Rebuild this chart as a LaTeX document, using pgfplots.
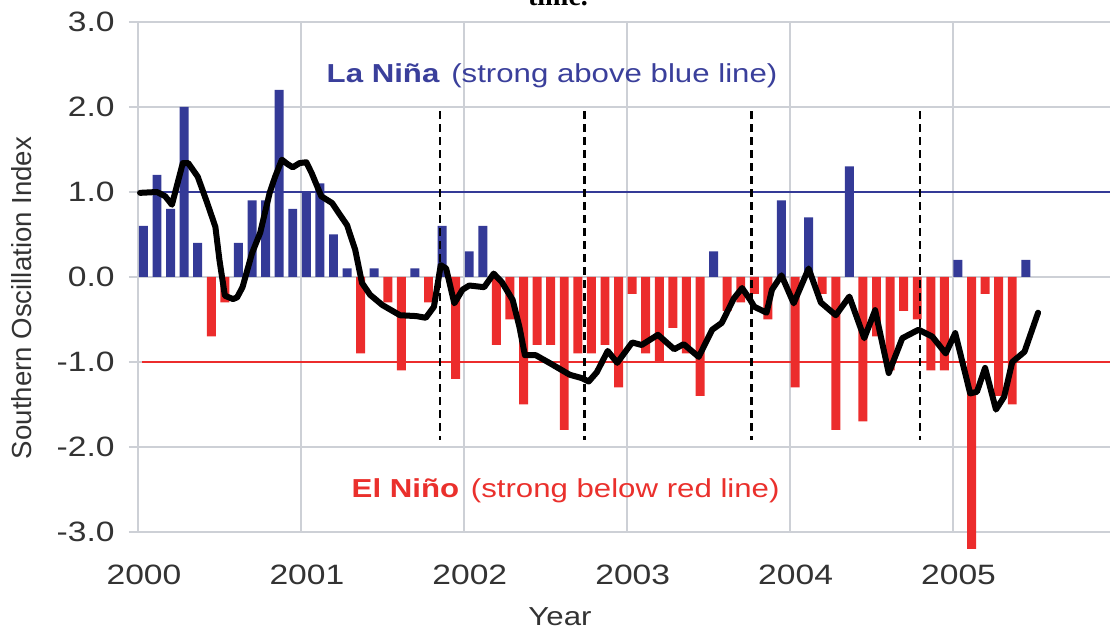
\documentclass[border=0pt]{standalone}
\usepackage{fontspec}
\setmainfont{Liberation Sans}[FakeStretch=1.2]
\newfontfamily\plainsans{Liberation Sans}
\newfontfamily\serifb{Liberation Serif}
\usepackage{pgfplots}
\usepackage{pgfplotstable}
\pgfplotsset{compat=1.18}
\usetikzlibrary{calc}
\definecolor{barblue}{HTML}{343A97}
\definecolor{barred}{HTML}{EC2C2C}
\definecolor{gridgray}{HTML}{CDD0D6}
\definecolor{txtblue}{HTML}{3A3F9B}
\definecolor{txtred}{HTML}{EA302C}
\definecolor{labgray}{HTML}{333333}

\pgfplotstableread{
x y
0.4 0.6
1.4 1.2
2.4 0.8
3.4 2.0
4.4 0.4
7.4 0.4
8.4 0.9
9.4 0.9
10.4 2.2
11.4 0.8
12.4 1.0
13.4 1.1
14.4 0.5
15.4 0.1
17.4 0.1
20.4 0.1
22.4 0.6
24.4 0.3
25.4 0.6
42.4 0.3
47.4 0.9
49.4 0.7
52.4 1.3
60.4 0.2
65.4 0.2
}\posbars

\pgfplotstableread{
x y
5.4 -0.7
6.4 -0.3
16.4 -0.9
18.4 -0.3
19.4 -1.1
21.4 -0.3
23.4 -1.2
26.4 -0.8
27.4 -0.5
28.4 -1.5
29.4 -0.8
30.4 -0.8
31.4 -1.8
32.4 -0.9
33.4 -0.9
34.4 -0.8
35.4 -1.3
36.4 -0.2
37.4 -0.9
38.4 -1.0
39.4 -0.6
40.4 -0.9
41.4 -1.4
43.4 -0.4
44.4 -0.3
45.4 -0.2
46.4 -0.5
48.4 -1.3
50.4 -0.2
51.4 -1.8
53.4 -1.7
54.4 -0.7
55.4 -1.1
56.4 -0.4
57.4 -0.5
58.4 -1.1
59.4 -1.1
61.4 -3.2
62.4 -0.2
63.4 -1.4
64.4 -1.5
}\negbars

\pgfplotstableread{
x y
0.15 0.99
1.4 1.0
2.0 0.95
2.5 0.85
3.3 1.34
3.7 1.34
4.4 1.18
5.1 0.87
5.7 0.59
6.0 0.2
6.4 -0.22
7.0 -0.26
7.3 -0.24
7.7 -0.12
8.4 0.28
9.0 0.52
9.7 0.99
10.1 1.18
10.6 1.38
11.0 1.33
11.4 1.29
11.9 1.34
12.4 1.35
12.8 1.22
13.5 0.95
14.3 0.87
14.8 0.75
15.4 0.61
16.0 0.32
16.5 -0.07
17.1 -0.21
18.0 -0.33
19.3 -0.45
20.5 -0.46
21.2 -0.48
21.8 -0.35
22.3 0.14
22.7 0.1
23.3 -0.31
23.9 -0.15
24.4 -0.1
25.5 -0.12
26.2 0.04
26.8 -0.06
27.6 -0.27
28.1 -0.59
28.5 -0.92
29.3 -0.92
30.3 -1.01
31.8 -1.15
32.7 -1.19
33.2 -1.23
33.8 -1.12
34.6 -0.87
35.3 -1.01
36.4 -0.77
37.1 -0.8
38.3 -0.68
39.5 -0.85
40.2 -0.79
41.3 -0.94
42.3 -0.62
43.0 -0.54
43.9 -0.25
44.5 -0.13
45.1 -0.27
45.4 -0.35
46.3 -0.42
46.7 -0.15
47.4 0.02
48.3 -0.31
49.4 0.1
50.3 -0.3
51.4 -0.45
52.4 -0.23
53.5 -0.72
54.3 -0.39
55.3 -1.13
56.3 -0.72
57.5 -0.62
58.5 -0.7
59.5 -0.9
60.2 -0.66
61.3 -1.37
61.8 -1.35
62.4 -1.07
63.2 -1.56
63.8 -1.41
64.4 -1.0
65.3 -0.88
66.3 -0.42
}\soi

\begin{document}
\begin{tikzpicture}
\begin{axis}[
  width=486pt, height=255pt, scale only axis,
  xmin=0, xmax=71.6, ymin=-3, ymax=3,
  clip=false,
  axis x line*=bottom, axis y line*=left,
  axis line style={gridgray, line width=1.2pt, -},
  xtick={0,12,24,36,48,60},
  xticklabels={2000,2001,2002,2003,2004,2005},
  ytick={-3,-2,-1,0,1,2,3},
  yticklabels={-3.0,-2.0,-1.0,0.0,1.0,2.0,3.0},
  grid=major,
  major grid style={gridgray, line width=1pt},
  tick align=outside,
  major tick length=4.5pt,
  xtick style={draw=none},
  ytick style={gridgray, line width=1pt},
  tick label style={font=\fontsize{14}{16}\selectfont, text=labgray},
  yticklabel style={anchor=east, inner sep=0pt, xshift=-7pt},
  xticklabel style={anchor=north, inner sep=0pt, yshift=-12pt, xshift=3pt},
]
\coordinate (SW) at (rel axis cs:0,0);
\coordinate (NE) at (rel axis cs:1,1);
\addplot[ybar, bar width=0.66, bar shift=0pt, fill=barblue, draw=none] table[x=x,y=y]{\posbars};
\addplot[ybar, bar width=0.66, bar shift=0pt, fill=barred, draw=none] table[x=x,y=y]{\negbars};
\addplot[barblue, line width=1pt] coordinates {(0.2,1) (71.6,1)};
\addplot[barred, line width=1pt] coordinates {(0.3,-1) (71.6,-1)};
\addplot[black, line width=3pt, line join=round, line cap=round] table[x=x,y=y]{\soi};
\addplot[black, line width=1.3pt, dash pattern=on 4pt off 2.5pt] coordinates {(22.24,1.95) (22.24,-1.92)};
\addplot[black, line width=1.3pt, dash pattern=on 4pt off 2.5pt] coordinates {(32.9,1.95) (32.9,-1.92)};
\addplot[black, line width=1.3pt, dash pattern=on 4pt off 2.5pt] coordinates {(45.2,1.95) (45.2,-1.92)};
\addplot[black, line width=1.3pt, dash pattern=on 4pt off 2.5pt] coordinates {(57.6,1.95) (57.6,-1.92)};
\node[anchor=base, text=txtblue, font=\fontsize{13}{15}\selectfont] at (axis cs:30.5,2.29) {\textbf{La Niña}\hspace{0.45em}(strong above blue line)};
\node[anchor=base, text=txtred, font=\fontsize{13}{15}\selectfont] at (axis cs:31.5,-2.59) {\textbf{El Niño}\hspace{0.45em}(strong below red line)};
\end{axis}
\node[rotate=90, text=labgray, font=\plainsans\fontsize{13.8}{16}\selectfont] at ($(SW)+(-58pt,117pt)$) {Southern Oscillation Index};
\node[text=labgray, font=\fontsize{13}{15}\selectfont] at ($(SW)+(211pt,-42.5pt)$) {Year};
\node[anchor=base, font=\serifb\bfseries\fontsize{14}{16}\selectfont] at ($(SW)+(210pt,263pt)$) {time.};
\pgfresetboundingbox
\path[use as bounding box] ($(SW)+(-69pt,-51.5pt)$) rectangle ($(NE)+(0pt,11pt)$);
\end{tikzpicture}
\end{document}
